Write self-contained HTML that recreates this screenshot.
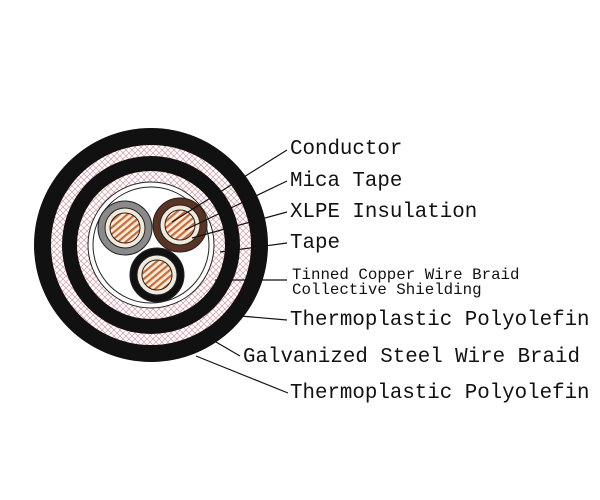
<!DOCTYPE html>
<html><head><style>body{margin:0;background:#fff}svg{display:block}</style></head><body>
<svg width="600" height="500" viewBox="0 0 600 500" xmlns="http://www.w3.org/2000/svg">
<defs>
<pattern id="br" width="6" height="6" patternUnits="userSpaceOnUse">
<rect width="6" height="6" fill="#fff"/>
<path d="M0 0L6 6M6 0L0 6" stroke="#d698a2" stroke-width="0.7"/>
</pattern>
<pattern id="cu" width="5" height="5" patternUnits="userSpaceOnUse" patternTransform="rotate(-40)">
<rect width="5" height="5" fill="#f6efe4"/>
<rect width="5" height="2.2" fill="#d9652a"/>
</pattern>
</defs>
<circle cx="151" cy="245" r="117" fill="#111"/>
<circle cx="151" cy="245" r="100" fill="url(#br)"/>
<circle cx="151" cy="245" r="89" fill="#111"/>
<circle cx="151" cy="245" r="74" fill="url(#br)"/>
<circle cx="151" cy="245" r="63" fill="#fff" stroke="#222" stroke-width="1"/>
<circle cx="151" cy="245" r="58" fill="#fff" stroke="#222" stroke-width="1"/>
<g stroke="#222" stroke-width="1">
<circle cx="125" cy="228" r="27" fill="#8a8a8a"/>
<circle cx="125" cy="228" r="20" fill="#efeadb"/>
<circle cx="125" cy="228" r="15" fill="url(#cu)"/>
<circle cx="180" cy="225" r="27" fill="#5a3322"/>
<circle cx="180" cy="225" r="20" fill="#efeadb"/>
<circle cx="180" cy="225" r="15" fill="url(#cu)"/>
<circle cx="157" cy="275" r="27" fill="#111"/>
<circle cx="157" cy="275" r="20" fill="#efeadb"/>
<circle cx="157" cy="275" r="15" fill="url(#cu)"/>
</g>
<g stroke="#111" stroke-width="1.2" fill="none">
<line x1="172" y1="222" x2="287" y2="150"/>
<line x1="185" y1="230" x2="287" y2="181"/>
<line x1="192" y1="238" x2="287" y2="212"/>
<line x1="220" y1="252" x2="287" y2="243"/>
<line x1="215" y1="280" x2="287" y2="280"/>
<line x1="240" y1="316" x2="287" y2="320"/>
<line x1="216" y1="342" x2="240" y2="356"/>
<line x1="196" y1="356" x2="288" y2="393"/>
</g>
<g font-family="Liberation Mono, monospace" fill="#111" font-size="20.8">
<text x="290" y="154">Conductor</text>
<text x="290" y="186">Mica Tape</text>
<text x="290" y="217">XLPE Insulation</text>
<text x="290" y="248">Tape</text>
<text x="290" y="325">Thermoplastic Polyolefin</text>
<text x="243" y="362">Galvanized Steel Wire Braid</text>
<text x="290" y="398">Thermoplastic Polyolefin</text>
<text font-size="15.8" x="292" y="279">Tinned Copper Wire Braid</text>
<text font-size="15.8" x="292" y="294">Collective Shielding</text>
</g>
</svg>
</body></html>
